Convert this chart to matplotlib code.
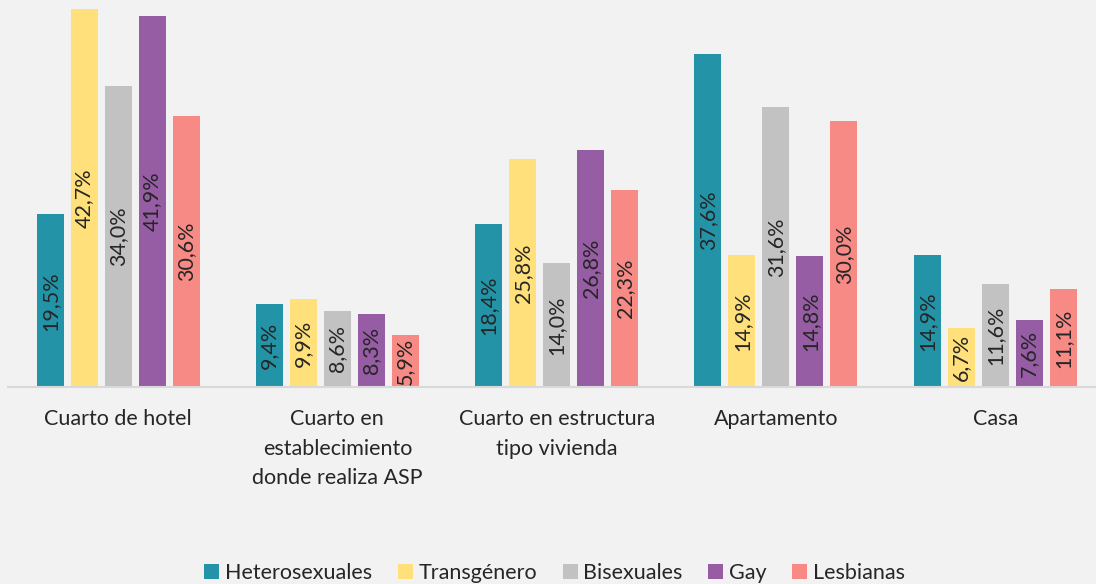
import numpy as np
from matplotlib import pyplot as plt

categorias = ['Cuarto de hotel', 'Cuarto en\nestablecimiento\ndonde realiza ASP',
              'Cuarto en estructura\ntipo vivienda', 'Apartamento', 'Casa']
series = ['Heterosexuales', 'Transgénero', 'Bisexuales', 'Gay', 'Lesbianas']
heterosexuales = [19.5, 9.4, 18.4, 37.6, 14.9]
transgenero = [42.7, 9.9, 25.8, 14.9, 6.7]
bisexuales = [34.0, 8.6, 14.0, 31.6, 11.6]
gay = [41.9, 8.3, 26.8, 14.8, 7.6]
lesbianas = [30.6, 5.9, 22.3, 30.0, 11.1]
colores = ['#2394A8', '#FFE07A', '#C2C2C2', '#965CA4', '#F78A84']

valores = [heterosexuales, transgenero, bisexuales, gay, lesbianas]

plt.rcParams['font.family'] = ['Lato', 'DejaVu Sans']
fig = plt.figure(figsize=(10.96, 5.84), dpi=100, facecolor='#F2F2F2')

ax = fig.add_axes([8.4 / 1096, 1 - 387 / 584, 1096.5 / 1096, 387 / 584])
ax.set_facecolor('none')

x = np.arange(len(categorias))
paso = 0.155
ancho = 0.123
for i in range(len(series)):
    pos = x + (i - 2) * paso
    ax.bar(pos, valores[i], ancho, color=colores[i], label=series[i], zorder=2)
    for j in range(len(categorias)):
        v = valores[i][j]
        ax.text(pos[j], v / 2, ('%.1f%%' % v).replace('.', ','), rotation=90,
                ha='center', va='center', fontsize=15.5, color='#262626', zorder=3)

ax.set_xlim(-0.5, len(categorias) - 0.5)
ax.set_ylim(0, 42.7 * 387 / 378)
ax.set_yticks([])
ax.set_xticks(x)
ax.set_xticklabels(categorias, fontsize=15.5, color='#262626', linespacing=1.6)
ax.tick_params(axis='x', length=0, pad=16)
for s in ['top', 'right', 'left']:
    ax.spines[s].set_visible(False)
ax.spines['bottom'].set_color('#D9D9D9')
ax.spines['bottom'].set_linewidth(1.5)

fig.legend(loc='center', bbox_to_anchor=(0.506, 1 - 573 / 584), ncol=5, frameon=False,
           fontsize=15.5, handlelength=0.7, handleheight=0.7, handletextpad=0.25,
           columnspacing=1.2, labelcolor='#262626')

fig.savefig('out.png', dpi=100, facecolor=fig.get_facecolor())
